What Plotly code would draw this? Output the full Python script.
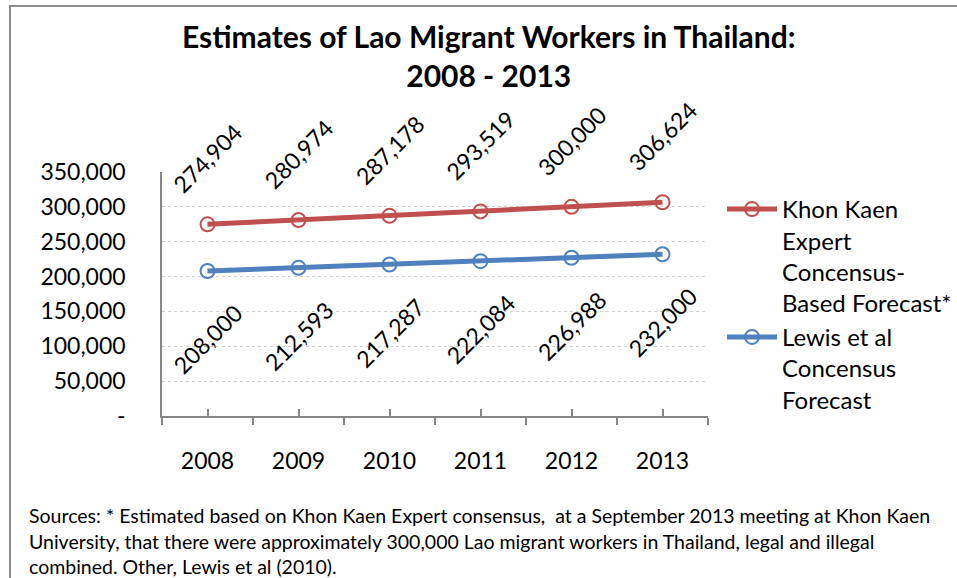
import plotly.graph_objects as go

years = ["2008", "2009", "2010", "2011", "2012", "2013"]
khon_kaen = [274904, 280974, 287178, 293519, 300000, 306624]
lewis = [208000, 212593, 217287, 222084, 226988, 232000]
khon_kaen_name = "Khon Kaen<br>Expert<br>Concensus-<br>Based Forecast*"
lewis_name = "Lewis et al<br>Concensus<br>Forecast"
y_tickvals = [0, 50000, 100000, 150000, 200000, 250000, 300000, 350000]
y_ticktext = ["-", "50,000", "100,000", "150,000", "200,000", "250,000", "300,000", "350,000"]
title_text = "<b>Estimates of Lao Migrant Workers in Thailand:<br>2008 - 2013</b>"
footnote_lines = [
    "Sources: * Estimated based on Khon Kaen Expert consensus,  at a September 2013 meeting at Khon Kaen",
    "University, that there were approximately 300,000 Lao migrant workers in Thailand, legal and illegal",
    "combined. Other, Lewis et al (2010).",
]

RED = "#C0504D"
BLUE = "#4F81BD"
FONT = "Lato"
W, H = 957, 578
L, R, T, B = 162, 249, 172, 162
pw, ph = W - L - R, H - T - B


def px_x(x):
    return (x - L) / pw


def px_y(y):
    return (H - B - y) / ph


fig = go.Figure()
fig.add_trace(go.Scatter(
    x=years, y=khon_kaen, name=khon_kaen_name, mode="lines+markers",
    line=dict(color=RED, width=5),
    marker=dict(symbol="circle-open", size=14, color=RED, line=dict(width=2, color=RED)),
    cliponaxis=False,
))
fig.add_trace(go.Scatter(
    x=years, y=lewis, name=lewis_name, mode="lines+markers",
    line=dict(color=BLUE, width=5),
    marker=dict(symbol="circle-open", size=14, color=BLUE, line=dict(width=2, color=BLUE)),
    xaxis="x2", cliponaxis=False,
))

annotations = []
for i, v in enumerate(khon_kaen):
    annotations.append(dict(x=i, y=v, xref="x", yref="y", text=f"{v:,}", showarrow=False,
                            textangle=-45, yshift=66, font=dict(size=23, color="black", family=FONT)))
for i, v in enumerate(lewis):
    annotations.append(dict(x=i, y=v, xref="x", yref="y", text=f"{v:,}", showarrow=False,
                            textangle=-45, yshift=-68, font=dict(size=23, color="black", family=FONT)))
for line, yc in zip(footnote_lines, [515, 541, 566]):
    annotations.append(dict(x=px_x(27), y=px_y(yc), xref="paper", yref="paper", text=line,
                            showarrow=False, xanchor="left", yanchor="middle",
                            font=dict(size=19.5, color="black", family=FONT)))
annotations.append(dict(x=px_x(488), y=px_y(56), xref="paper", yref="paper", text=title_text,
                        showarrow=False, xanchor="center", yanchor="middle",
                        font=dict(size=30, color="black", family=FONT)))

fig.update_layout(
    width=W, height=H,
    margin=dict(l=L, r=R, t=T, b=B, autoexpand=False),
    paper_bgcolor="white", plot_bgcolor="white",
    font=dict(family=FONT, color="black"),
    xaxis=dict(type="category", range=[-0.5, 5.5], showline=True, linecolor="#868686", linewidth=1.5,
               ticks="outside", tickson="boundaries", ticklen=7, tickwidth=1.5, tickcolor="#868686",
               showgrid=False, tickfont=dict(size=23), ticklabelstandoff=24, fixedrange=True),
    xaxis2=dict(type="category", range=[-0.5, 5.5], overlaying="x", anchor="y", side="bottom",
                showline=False, ticks="inside", ticklen=7, tickwidth=1.5, tickcolor="#868686",
                showticklabels=False, showgrid=False),
    yaxis=dict(range=[0, 350000], tickvals=y_tickvals, ticktext=y_ticktext, showline=True,
               linecolor="#868686", linewidth=1.5, ticks="", showgrid=True, gridcolor="#D0D0D0",
               griddash="dot", gridwidth=1.2, zeroline=False, tickfont=dict(size=23),
               ticklabelstandoff=30),
    legend=dict(x=px_x(722), y=px_y(187), xanchor="left", yanchor="top", valign="top",
                font=dict(size=24, family=FONT), itemwidth=50, tracegroupgap=0,
                bgcolor="rgba(0,0,0,0)"),
    showlegend=True,
    annotations=annotations,
    shapes=[dict(type="rect", xref="paper", yref="paper", x0=px_x(10), x1=px_x(970),
                 y0=px_y(590), y1=px_y(6), line=dict(color="#8C8C8C", width=2), layer="below")],
)

fig.write_html("out.html", config={"displayModeBar": False},
               post_script="document.body.style.margin='0';")
